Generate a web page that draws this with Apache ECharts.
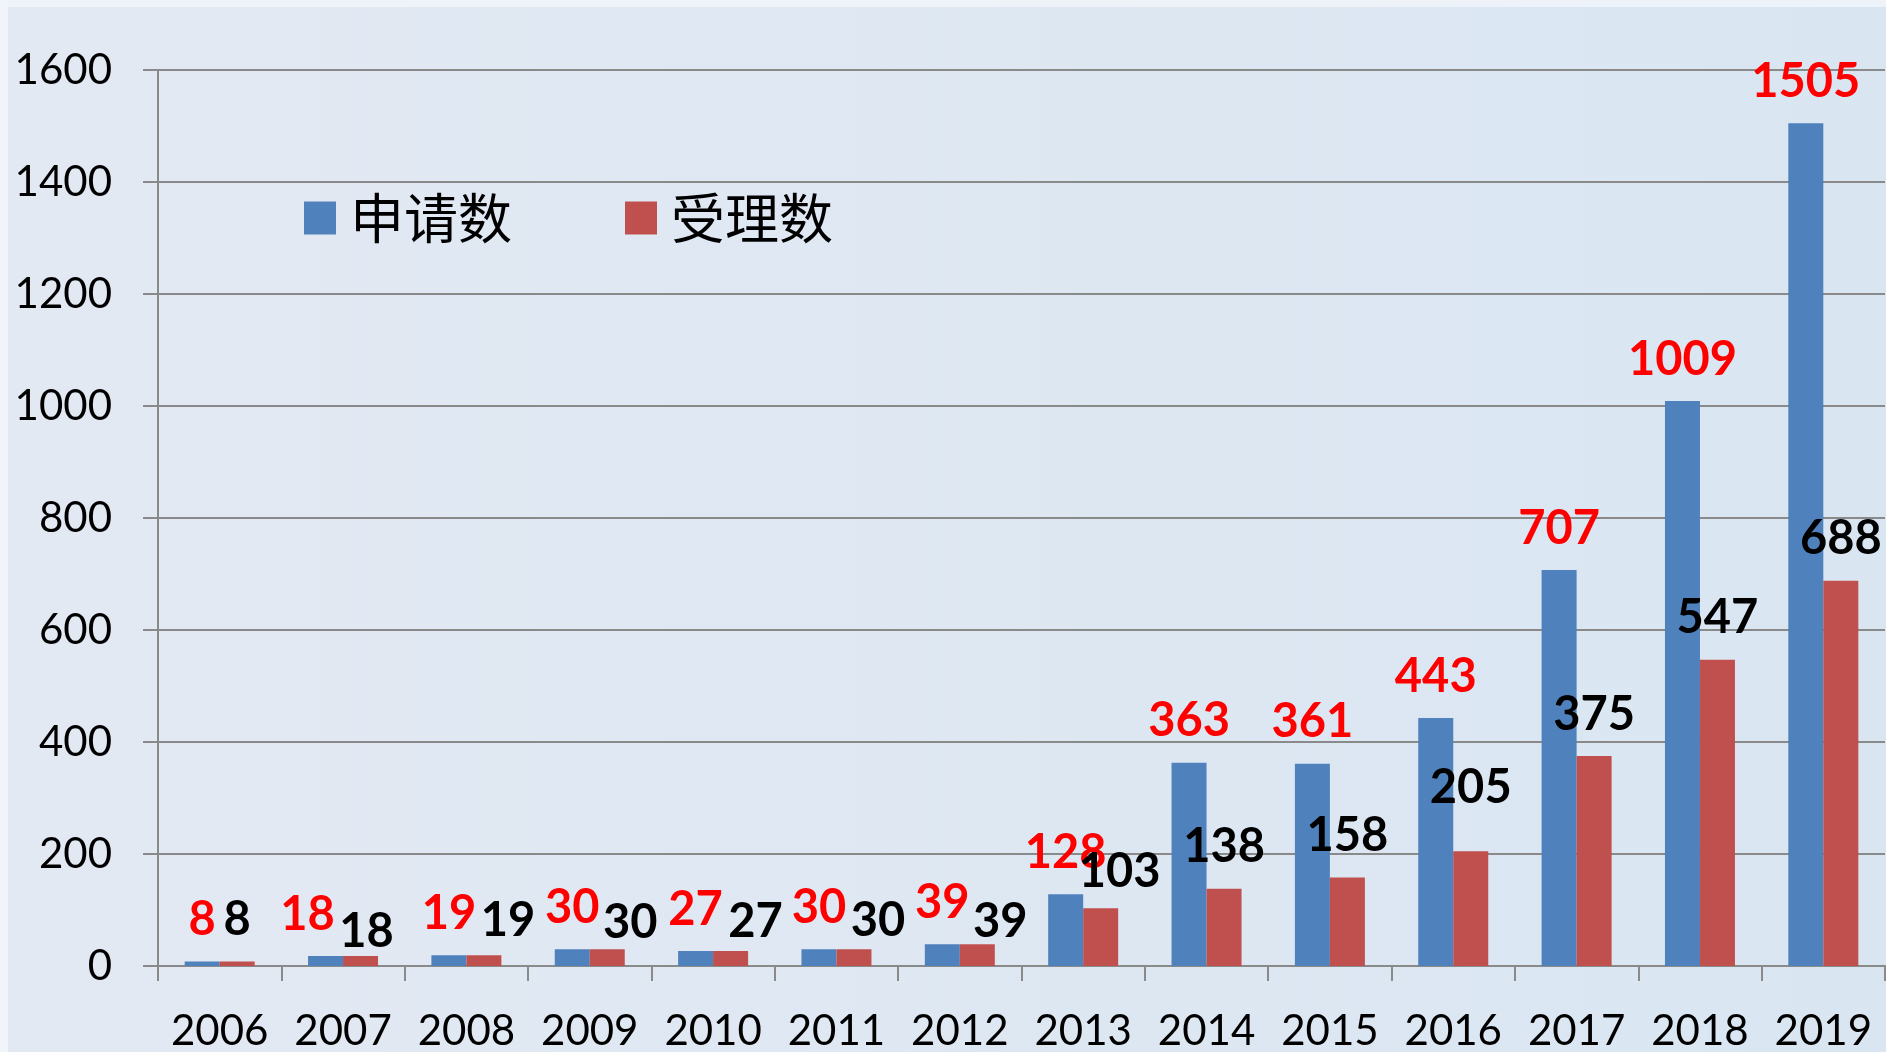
<!DOCTYPE html>
<html>
<head>
<meta charset="utf-8">
<title>申请数与受理数</title>
<script src="https://cdn.jsdelivr.net/npm/echarts@6/dist/echarts.min.js"></script>
<style>
  html, body { margin: 0; padding: 0; }
  #chart { width: 1886px; height: 1052px; }
</style>
</head>
<body>
<div id="chart"></div>
<script>
"use strict";

// values
const years = ['2006', '2007', '2008', '2009', '2010', '2011', '2012',
               '2013', '2014', '2015', '2016', '2017', '2018', '2019'];
const applied = [8, 18, 19, 30, 27, 30, 39, 128, 363, 361, 443, 707, 1009, 1505];
const accepted = [8, 18, 19, 30, 27, 30, 39, 103, 138, 158, 205, 375, 547, 688];
const seriesNames = ['申请数', '受理数'];

// hand-placed label nudges (px, relative to the default spot above the bar)
const appliedLabelNudge = [
  [0, 0], [-18, 0], [0, 0], [0, 0], [0, 0], [0, 0], [0, 0],
  [0, 0], [0, 0], [0, 0], [0, 0], [0, 0], [0, 0], [0, 0]
];
const acceptedLabelNudge = [
  [0, 0], [6, 17], [24, 7], [23, 15], [25, 12], [24, 13], [23, 19],
  [19, 5], [0, 0], [0, 0], [0, -22], [0, 0], [0, 0], [0, 0]
];

const numFont = 'Lato';
const cjkFont = '"Noto Sans CJK SC"';
const gridGray = '#8a8a8a';

const chart = echarts.init(document.getElementById('chart'));

const option = {
  animation: false,
  backgroundColor: {
    type: 'linear', x: 0, y: 0, x2: 1, y2: 0,
    colorStops: [
      {offset: 0, color: '#e3e9f3'},
      {offset: 1, color: '#d9e6f2'}
    ]
  },
  graphic: [
    // lighter strips along the top and left edges
    {type: 'rect', left: 0, top: 0, shape: {width: 1886, height: 7}, style: {fill: '#edf3f9'}, silent: true},
    {type: 'rect', left: 0, top: 0, shape: {width: 8, height: 1052}, style: {fill: '#f1f5f9'}, silent: true}
  ],
  legend: {
    data: seriesNames,
    left: 299,
    top: 186,
    icon: 'rect',
    itemWidth: 32,
    itemHeight: 33,
    itemGap: 113,
    textStyle: {
      fontFamily: cjkFont,
      fontSize: 54,
      color: '#000',
      padding: [0, 0, 0, 9]
    }
  },
  grid: {
    left: 158,
    right: 1,
    top: 70,
    bottom: 84,
    containLabel: false
  },
  xAxis: {
    type: 'category',
    data: years,
    axisLine: {lineStyle: {color: gridGray, width: 2}},
    axisTick: {show: true, length: 15, interval: 0, lineStyle: {color: gridGray, width: 2}},
    axisLabel: {
      interval: 0,
      margin: 44,
      fontFamily: numFont,
      fontSize: 42,
      color: '#000'
    }
  },
  yAxis: {
    type: 'value',
    min: 0,
    max: 1600,
    interval: 200,
    axisLine: {show: true, lineStyle: {color: gridGray, width: 2}},
    axisTick: {show: true, length: 15, lineStyle: {color: gridGray, width: 2}},
    splitLine: {lineStyle: {color: gridGray, width: 2}},
    axisLabel: {
      margin: 46,
      fontFamily: numFont,
      fontSize: 42,
      color: '#000',
      formatter: v => String(v)
    }
  },
  series: [
    {
      name: seriesNames[0],
      type: 'bar',
      data: applied.map((v, i) => ({
        value: v,
        label: {offset: appliedLabelNudge[i]}
      })),
      barWidth: 35,
      barGap: '0%',
      itemStyle: {color: '#4f81bd'},
      label: {
        show: true,
        position: 'top',
        distance: 18,
        fontFamily: numFont,
        fontWeight: 'bold',
        fontSize: 47,
        color: '#ff0000'
      }
    },
    {
      name: seriesNames[1],
      type: 'bar',
      data: accepted.map((v, i) => ({
        value: v,
        label: {offset: acceptedLabelNudge[i]}
      })),
      barWidth: 35,
      barGap: '0%',
      itemStyle: {color: '#c0504d'},
      label: {
        show: true,
        position: 'top',
        distance: 18,
        fontFamily: numFont,
        fontWeight: 'bold',
        fontSize: 47,
        color: '#000'
      }
    }
  ]
};

chart.setOption(option);
</script>
</body>
</html>
